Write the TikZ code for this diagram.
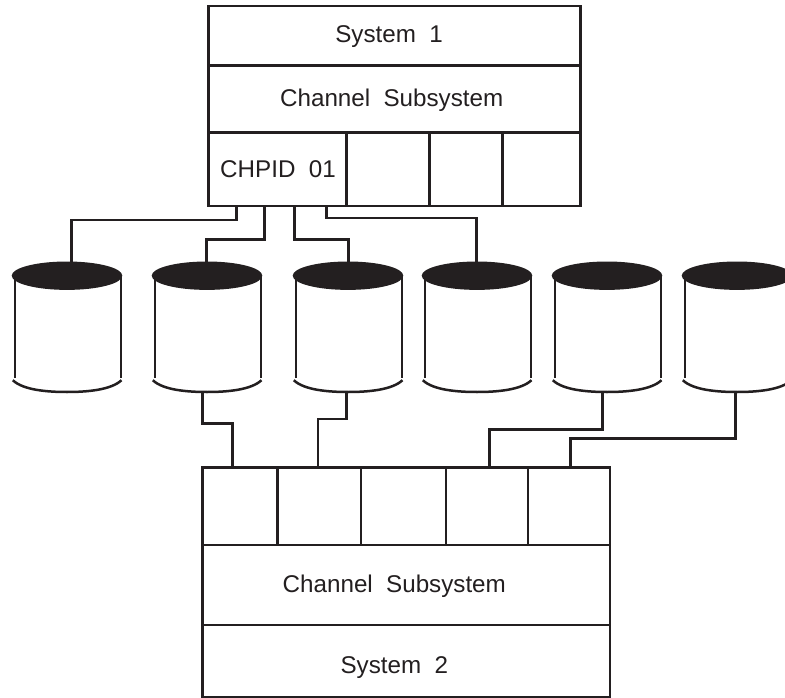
\documentclass[tikz,border=0pt]{standalone}
\usepackage{fontspec}
\setmainfont{Liberation Sans}
\definecolor{ink}{HTML}{231F20}
\newcommand{\boxcell}[5]{% name, x1, y1, x2, y2
  \node[cell, minimum width={(#4-#2)*1pt}, minimum height={(#5-#3)*1pt}] (#1) at ({(#2+#4)/2},{(#3+#5)/2}) {};}
\newcommand{\diskunit}[2]{% name, centre x
  \node[diskbody] (#1) at (#2,334) {};
  \fill[ink] (#2,275.7) ellipse [x radius=55.3, y radius=14.2];
  \draw[wire, line cap=butt] (#2-51.8,276) -- (#2-51.8,378.3);
  \draw[wire, line cap=butt] (#2+54.2,276) -- (#2+54.2,378.3);
  \draw[wire] (#2-54.2,380.2) .. controls (#2-44,390) and (#2-20,392) .. (#2,392)
     .. controls (#2+20,392) and (#2+44,390) .. (#2+54.5,380.2);}
\tikzset{
  x=1pt, y=-1pt,
  wire/.style={draw=ink, line width=2.5pt, line join=miter},
  cell/.style={draw=ink, line width=2.5pt, inner sep=0pt, outer sep=0pt, rectangle},
  diskbody/.style={rectangle, inner sep=0pt, outer sep=0pt, minimum width=110pt, minimum height=116pt},
  lbl/.style={font=\fontsize{24.2}{28}\selectfont, text=ink, anchor=base, inner sep=0pt}
}
\begin{document}
\begin{tikzpicture}
\useasboundingbox (0,0) rectangle (785,698);
\clip (0,0) rectangle (785,698);
\fill[white] (0,0) rectangle (785,698);

% top system
\boxcell{sysA}{208.3}{6}{580.3}{65.7}
\boxcell{chanA}{208.3}{65.7}{580.3}{132.7}
\boxcell{cA}{208.3}{132.7}{346.7}{206}
\boxcell{cB}{346.7}{132.7}{429.3}{206}
\boxcell{cC}{429.3}{132.7}{502.3}{206}
\boxcell{cD}{502.3}{132.7}{580.3}{206}
\node[lbl] (tA) at (389,42.7) {System\hspace{0.55em}1};
\node[lbl] (tB) at (391.7,106.7) {Channel\hspace{0.55em}Subsystem};
\node[lbl] (tC) at (278,177.7) {CHPID\hspace{0.55em}01};

% bottom system
\boxcell{bA}{202.3}{467.3}{277.3}{545}
\boxcell{bB}{277.3}{467.3}{361}{545}
\boxcell{bC}{361}{467.3}{446}{545}
\boxcell{bD}{446}{467.3}{528}{545}
\boxcell{bE}{528}{467.3}{610}{545}
\boxcell{chanB}{202.3}{545}{610}{625}
\boxcell{sysB}{202.3}{625}{610}{697}
\node[lbl] (tD) at (394.3,592.3) {Channel\hspace{0.55em}Subsystem};
\node[lbl] (tE) at (394.3,673) {System\hspace{0.55em}2};

% disks
\diskunit{dA}{67}
\diskunit{dB}{207}
\diskunit{dC}{348}
\diskunit{dD}{477}
\diskunit{dE}{607}
\diskunit{dF}{737}

% connector ends on the boxes and disks
\coordinate (pA) at (cA.south -| 236.7,0);
\coordinate (pB) at (cA.south -| 264.3,0);
\coordinate (pC) at (cA.south -| 294.7,0);
\coordinate (pD) at (cA.south -| 326.7,0);
\coordinate (qA) at (dA.north -| 71.5,0);
\coordinate (qB) at (dB.north -| 206.3,0);
\coordinate (qC) at (dC.north -| 348.3,0);
\coordinate (qD) at (dD.north -| 476.7,0);
\coordinate (rB) at (dB.south -| 202.3,0);
\coordinate (rC) at (dC.south -| 346.3,0);
\coordinate (rE) at (dE.south -| 602.7,0);
\coordinate (rF) at (dF.south -| 735.7,0);
\coordinate (sB) at (bA.north -| 232.3,0);
\coordinate (sC) at (bB.north -| 318,0);
\coordinate (sE) at (bD.north -| 489.3,0);
\coordinate (sF) at (bE.north -| 570.3,0);

% upper connectors
\draw[wire] (pA) |- (qA |- 0,220) -- (qA);
\draw[wire] (pB) |- (qB |- 0,239.5) -- (qB);
\draw[wire] (pC) |- (qC |- 0,239.5) -- (qC);
\draw[wire] (pD) |- (qD |- 0,218) -- (qD);

% lower connectors
\draw[wire] (rB) |- (sB |- 0,423.3) -- (sB);
\draw[wire] (rC) |- (sC |- 0,419) -- (sC);
\draw[wire] (rE) |- (sE |- 0,429.3) -- (sE);
\draw[wire] (rF) |- (sF |- 0,438.3) -- (sF);
\end{tikzpicture}
\end{document}
